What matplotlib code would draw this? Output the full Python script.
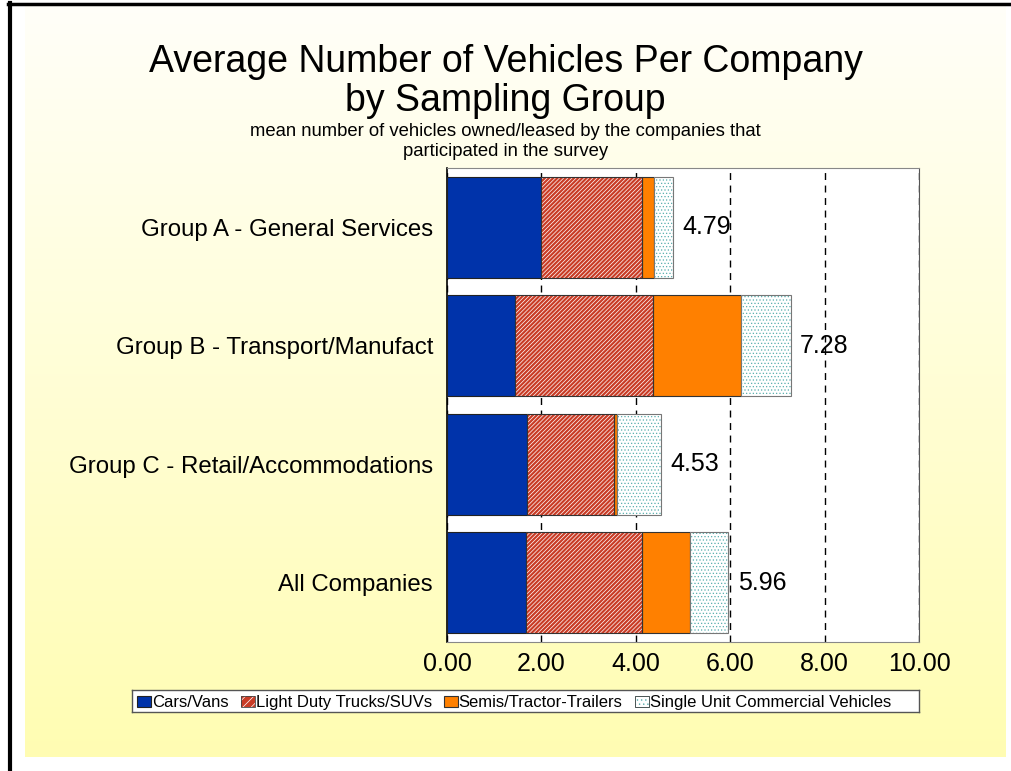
import numpy as np
import matplotlib.pyplot as plt
from matplotlib.lines import Line2D
from matplotlib.patches import Rectangle

plt.rcParams['font.family'] = ['Liberation Sans', 'DejaVu Sans']
plt.rcParams['hatch.linewidth'] = 0.5

# Mean vehicles per company, by vehicle type and sampling group
groups = ['Group A - General Services', 'Group B - Transport/Manufact',
          'Group C - Retail/Accommodations', 'All Companies']
cars_vans = [1.99, 1.44, 1.69, 1.67]
light_trucks = [2.14, 2.92, 1.84, 2.47]
semis = [0.26, 1.87, 0.07, 1.00]
single_unit = [0.40, 1.05, 0.93, 0.82]
totals = [4.79, 7.28, 4.53, 5.96]

series_labels = ['Cars/Vans', 'Light Duty Trucks/SUVs', 'Semis/Tractor-Trailers',
                 'Single Unit Commercial Vehicles']
styles = [
    dict(facecolor='#0033AA', edgecolor='#222222', lw=0.8),
    dict(facecolor='#C93C26', edgecolor='white', hatch='////', lw=0),
    dict(facecolor='#FF8000', edgecolor='#333333', lw=0.8),
    dict(facecolor='white', edgecolor='#5AAFAF', hatch='....', lw=0.5),
]

W, H = 1011, 771
fig = plt.figure(figsize=(W / 100, H / 100), dpi=100, facecolor='white')

# pale yellow gradient backdrop
bg = fig.add_axes([25 / W, 14 / H, 981 / W, 752 / H])
top = np.array([1.0, 1.0, 0.975])
bottom = np.array([1.0, 0.992, 0.70])
t = np.linspace(0, 1, 256)[:, None, None]
grad = top * (1 - t) + bottom * t
bg.imshow(np.repeat(grad, 2, axis=1), aspect='auto', extent=[0, 1, 0, 1])
bg.axis('off')

# black frame lines on the left and top
fig.add_artist(Line2D([9.5 / W, 9.5 / W], [0, 1 - 3 / H], color='black', lw=3))
fig.add_artist(Line2D([8 / W, 1], [1 - 3.5 / H, 1 - 3.5 / H], color='black', lw=2.5))

ax = fig.add_axes([447 / W, 1 - 642 / H, 472 / W, 474 / H])
ax.set_facecolor('white')

y = np.arange(len(groups))
h = 0.85
left = np.zeros(len(groups))

ax.barh(y, cars_vans, h, left=left, color='#0033AA', edgecolor='#222222', lw=0.8, zorder=3)
left += cars_vans
ax.barh(y, light_trucks, h, left=left, color='#C93C26', edgecolor='white', lw=0, hatch='////////', zorder=3)
ax.barh(y, light_trucks, h, left=left, fill=False, edgecolor='#333333', lw=0.8, zorder=4)
left += light_trucks
ax.barh(y, semis, h, left=left, color='#FF8000', edgecolor='#333333', lw=0.8, zorder=3)
left += semis
ax.barh(y, single_unit, h, left=left, color='white', edgecolor='#5AAFAF', lw=0, hatch='.....', zorder=3)
ax.barh(y, single_unit, h, left=left, fill=False, edgecolor='#777777', lw=0.8, zorder=4)

for yi, tot in zip(y, totals):
    ax.text(tot + 0.2, yi, f'{tot:.2f}', va='center', ha='left', fontsize=18, zorder=5)

ax.set_xlim(0, 10)
ax.set_ylim(3.5, -0.5)
ax.set_xticks(np.arange(0, 11, 2))
ax.set_xticklabels([f'{v:.2f}' for v in np.arange(0, 11, 2)], fontsize=18)
ax.set_yticks(y)
ax.set_yticklabels(groups, fontsize=17.3)
ax.tick_params(axis='y', length=0, pad=10)
ax.tick_params(axis='x', length=0, pad=7)
ax.xaxis.grid(True, color='black', ls=(0, (5, 4)), lw=1, zorder=1)
ax.set_axisbelow(True)
for s in ['top', 'bottom']:
    ax.spines[s].set_color('#888888')
ax.spines['right'].set_color('#555555')
ax.spines['left'].set_color('black')
ax.spines['left'].set_linewidth(1.2)

fig.text(0.5, 1 - 62 / H, 'Average Number of Vehicles Per Company', ha='center', va='center', fontsize=27)
fig.text(0.5, 1 - 101 / H, 'by Sampling Group', ha='center', va='center', fontsize=27)
fig.text(0.5, 1 - 131 / H, 'mean number of vehicles owned/leased by the companies that',
         ha='center', va='center', fontsize=13.3)
fig.text(0.5, 1 - 151 / H, 'participated in the survey', ha='center', va='center', fontsize=13.3)

# legend strip along the bottom, laid out in pixel units
box_x0, box_x1, box_y0, box_y1 = 132, 919, 690, 712
bw, bh = box_x1 - box_x0, box_y1 - box_y0
lax = fig.add_axes([box_x0 / W, 1 - box_y1 / H, bw / W, bh / H])
lax.set_xlim(0, bw)
lax.set_ylim(0, bh)
lax.set_xticks([])
lax.set_yticks([])
lax.set_facecolor('white')
for sp in lax.spines.values():
    sp.set_color('#555555')
    sp.set_linewidth(1)

renderer = fig.canvas.get_renderer()
fs = 12
sq_w, sq_h, gap_txt, gap, margin = 14, 11, 1, 12, 5
x = margin
for lab, st in zip(series_labels, styles):
    lax.add_patch(Rectangle((x, bh / 2 - sq_h / 2), sq_w, sq_h, **st))
    if st.get('hatch'):
        lax.add_patch(Rectangle((x, bh / 2 - sq_h / 2), sq_w, sq_h, fill=False,
                                edgecolor='#444444', lw=0.6))
    txt = lax.text(x + sq_w + gap_txt, bh / 2, lab, fontsize=fs, va='center_baseline', ha='left')
    x += sq_w + gap_txt + txt.get_window_extent(renderer).width + gap

fig.savefig('out.png', dpi=100, facecolor='white')
